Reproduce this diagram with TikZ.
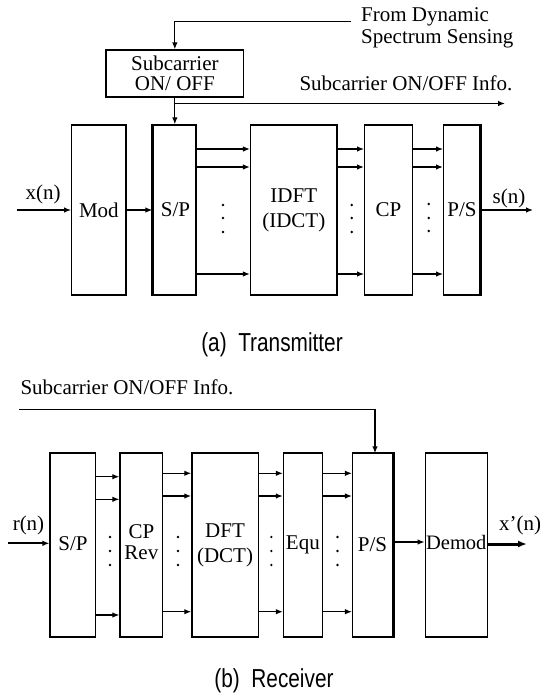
\documentclass[tikz,border=0pt]{standalone}
\usepackage{fontspec}
\setmainfont{Liberation Serif}
\newfontfamily\capfont[FakeStretch=0.8]{Liberation Sans}
\usetikzlibrary{arrows.meta}
\begin{document}
\begin{tikzpicture}[x=1pt,y=-1pt,
  blk/.style={draw, line width=1.3pt, inner sep=0pt, align=center, font=\fontsize{21}{25}\selectfont},
  txt/.style={inner sep=0pt, align=left, font=\fontsize{21}{22.6}\selectfont},
  arr/.style={-{Latex[length=7pt,width=5.5pt]}, line width=1.2pt},
  arrb/.style={arr, line width=2pt},
  arrh/.style={-{Latex[length=9pt,width=7pt]}, line width=3pt},
  dotc/.style={fill, circle, inner sep=0pt, minimum size=2.6pt},
  captxt/.style={inner sep=0pt, font=\capfont\fontsize{26}{30}\selectfont}]
\useasboundingbox (0,0) rectangle (543,696);

% ---------------- Transmitter ----------------
\node[blk, minimum width=137.7, minimum height=47, font=\fontsize{21}{20}\selectfont] (onoff) at (174.85,73.5) {Subcarrier\\ON/ OFF};
\node[blk, minimum width=54.3, minimum height=170] (mod) at (98.85,210) {Mod};
\node[blk, minimum width=43, minimum height=170] (sp) at (174.5,210) {\hspace*{2pt}S/P};
\node[blk, minimum width=86.4, minimum height=170] (idft) at (293.8,210) {IDFT\\(IDCT)};
\node[blk, minimum width=47.7, minimum height=170] (cp) at (388.55,210) {CP};
\node[blk, minimum width=36.6, minimum height=170] (ps) at (462,210) {P/S};
\draw[line width=3pt] (sp.north west) -- (sp.south west);
\draw[line width=3pt] (ps.north east) -- (ps.south east);

\node[txt, anchor=west] (fds) at (361,28) {From Dynamic\\Spectrum Sensing};
\node[txt] (infotx) at (406,83.5) {Subcarrier ON/OFF Info.};
\node[txt] (xn) at (43,194) {x(n)};
\node[txt] (sn) at (509,198) {s(n)};

\coordinate (dss) at (351,21.7);
\draw[arr] (dss) -| (onoff.north);
\draw[arr] (onoff.south) -- (onoff.south |- sp.north);
\coordinate (infoend) at (505,103.5);
\draw[arr] (onoff.south |- infoend) -- (infoend);

\coordinate (xin) at (16.7,210);
\coordinate (sout) at (533,210);
\draw[arr] (xin) -- (mod.west);
\draw[arr] (mod.east) -- (sp.west);
\draw[arr] (ps.east) -- (sout);

\draw[arr]  (sp.east |- 0,149) -- (idft.west |- 0,149);
\draw[arrb] (sp.east |- 0,167) -- (idft.west |- 0,167);
\draw[arrb] (sp.east |- 0,274) -- (idft.west |- 0,274);
\draw[arr]  (idft.east |- 0,149) -- (cp.west |- 0,149);
\draw[arrb] (idft.east |- 0,167) -- (cp.west |- 0,167);
\draw[arr]  (idft.east |- 0,274) -- (cp.west |- 0,274);
\draw[arr]  (cp.east |- 0,149) -- (ps.west |- 0,149);
\draw[arrb] (cp.east |- 0,167) -- (ps.west |- 0,167);
\draw[arr]  (cp.east |- 0,274) -- (ps.west |- 0,274);

\node[dotc] (ta1) at (223,205) {};
\node[dotc] (ta2) at (223,218) {};
\node[dotc] (ta3) at (223,232) {};
\node[dotc] (tb1) at (351.7,205) {};
\node[dotc] (tb2) at (351.7,218) {};
\node[dotc] (tb3) at (351.7,232) {};
\node[dotc] (tc1) at (428.7,204) {};
\node[dotc] (tc2) at (428.7,218) {};
\node[dotc] (tc3) at (428.7,231) {};

\node[captxt, anchor=base] (capa) at (272,351.5) {(a)\ \ Transmitter};

% ---------------- Receiver ----------------
\node[blk, minimum width=45.7, minimum height=184] (rsp) at (72.95,545) {\raisebox{2pt}{S/P}};
\node[blk, minimum width=42.8, minimum height=184, font=\fontsize{21}{21}\selectfont] (cprev) at (141.4,545) {\raisebox{-8pt}{\begin{tabular}{@{}c@{}}CP\\Rev\end{tabular}}};
\node[blk, minimum width=66.3, minimum height=184] (dft) at (225.05,545) {DFT\\(DCT)};
\node[blk, minimum width=38.7, minimum height=184] (equ) at (302.85,545) {Equ};
\node[blk, minimum width=39.8, minimum height=184] (rps) at (372.5,545) {P/S};
\node[blk, minimum width=62.2, minimum height=184, font=\fontsize{20.5}{25}\selectfont] (demod) at (456.3,545) {\raisebox{5pt}{Demod}};
\draw[line width=3pt] (rps.north east) -- (rps.south east);

\node[txt] (inforx) at (127,387.5) {Subcarrier ON/OFF Info.};
\node[txt] (rn) at (28.5,525.7) {r(n)};
\node[txt] (xpn) at (520,525) {x'(n)};

\coordinate (rinfo) at (19,409.3);
\coordinate (rpsin) at (375,453.3);
\draw[line width=1.3pt] (rinfo) -- (rinfo -| rpsin);
\draw[arrb] (rinfo -| rpsin) -- (rpsin);

\coordinate (rin) at (7.6,543.3);
\coordinate (xout) at (527,544);
\draw[arrb] (rin) -- (rsp.west |- rin);
\draw[arr] (rps.east |- 0,542) -- (demod.west |- 0,542);
\draw[arrh] (demod.east |- xout) -- (xout);

\draw[arr]  (rsp.east |- 0,476.7) -- (cprev.west |- 0,476.7);
\draw[arr]  (rsp.east |- 0,499.3) -- (cprev.west |- 0,499.3);
\draw[arr]  (rsp.east |- 0,615) -- (cprev.west |- 0,615);
\draw[arr]  (cprev.east |- 0,473.3) -- (dft.west |- 0,473.3);
\draw[arrb] (cprev.east |- 0,496) -- (dft.west |- 0,496);
\draw[arr]  (cprev.east |- 0,611.7) -- (dft.west |- 0,611.7);
\draw[arr]  (dft.east |- 0,473.3) -- (equ.west |- 0,473.3);
\draw[arrb] (dft.east |- 0,496) -- (equ.west |- 0,496);
\draw[arr]  (dft.east |- 0,611.7) -- (equ.west |- 0,611.7);
\draw[arr]  (equ.east |- 0,473.3) -- (rps.west |- 0,473.3);
\draw[arr]  (equ.east |- 0,496) -- (rps.west |- 0,496);
\draw[arr]  (equ.east |- 0,611.7) -- (rps.west |- 0,611.7);

\node[dotc] (ra1) at (110,537) {};
\node[dotc] (ra2) at (110,551) {};
\node[dotc] (ra3) at (110,565) {};
\node[dotc] (rb1) at (178,537) {};
\node[dotc] (rb2) at (178,551) {};
\node[dotc] (rb3) at (178,565) {};
\node[dotc] (rc1) at (271.4,537) {};
\node[dotc] (rc2) at (271.4,551) {};
\node[dotc] (rc3) at (271.4,565) {};
\node[dotc] (rd1) at (337.5,537) {};
\node[dotc] (rd2) at (337.5,551) {};
\node[dotc] (rd3) at (337.5,565) {};

\node[captxt, anchor=base] (capb) at (274,687.3) {(b)\ \ Receiver};
\end{tikzpicture}
\end{document}
